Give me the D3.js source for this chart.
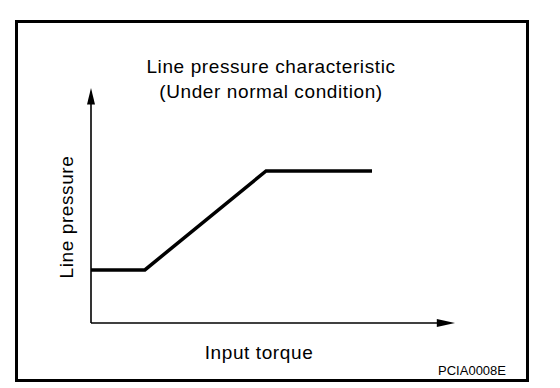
<!DOCTYPE html>
<html><head><meta charset="utf-8">
<script src="https://cdn.jsdelivr.net/npm/d3@7"></script>
<style>body{margin:0;background:#fff}svg{display:block}</style>
</head><body>
<script>
const torque = [0, 14.8, 48.1, 77.2];
const pressure = [22.6, 22.6, 64.7, 64.7];
const titleLines = ["Line pressure characteristic", "(Under normal condition)"];
const xLabel = "Input torque";
const yLabel = "Line pressure";
const code = "PCIA0008E";

const W = 560, H = 388;
const svg = d3.select("body").append("svg").attr("width", W).attr("height", H);
svg.append("rect").attr("x", 16.5).attr("y", 21.5).attr("width", 511).attr("height", 359)
  .attr("fill", "#fff").attr("stroke", "#000").attr("stroke-width", 3);

const x = d3.scaleLinear().domain([0, 100]).range([91, 455]);
const y = d3.scaleLinear().domain([0, 100]).range([323, 88]);

const font = "Liberation Sans, Arial, sans-serif";
// axes
svg.append("line").attr("x1", x(0)).attr("x2", x(96)).attr("y1", y(0)).attr("y2", y(0))
  .attr("stroke", "#000").attr("stroke-width", 1.6);
svg.append("line").attr("x1", x(0)).attr("x2", x(0)).attr("y1", y(0)).attr("y2", y(94))
  .attr("stroke", "#000").attr("stroke-width", 1.6);
// arrowheads
svg.append("path").attr("d", `M${x(100)},${y(0)} L${x(95)},${y(0)-4} L${x(95)},${y(0)+4}Z`).attr("fill", "#000");
svg.append("path").attr("d", `M${x(0)},${y(100)} L${x(0)-4},${y(93)} L${x(0)+4},${y(93)}Z`).attr("fill", "#000");

const data = torque.map((t, i) => [t, pressure[i]]);
svg.append("path").datum(data)
  .attr("d", d3.line().x(d => x(d[0])).y(d => y(d[1])))
  .attr("fill", "none").attr("stroke", "#000").attr("stroke-width", 3.5).attr("stroke-linejoin", "miter");

svg.selectAll("text.title").data(titleLines).join("text").attr("class", "title")
  .attr("x", 271).attr("y", (d, i) => 73 + i * 25).attr("text-anchor", "middle")
  .attr("font-family", font).attr("font-size", 19).attr("letter-spacing", 0.6).text(d => d);

svg.append("text").attr("x", 259).attr("y", 359).attr("text-anchor", "middle")
  .attr("font-family", font).attr("font-size", 19).attr("letter-spacing", 0.6).text(xLabel);
svg.append("text").attr("transform", "translate(73,217) rotate(-90)").attr("text-anchor", "middle")
  .attr("font-family", font).attr("font-size", 19).attr("letter-spacing", 0.6).text(yLabel);
svg.append("text").attr("x", 506).attr("y", 375).attr("text-anchor", "end")
  .attr("font-family", font).attr("font-size", 13).text(code);
</script>
</body></html>
